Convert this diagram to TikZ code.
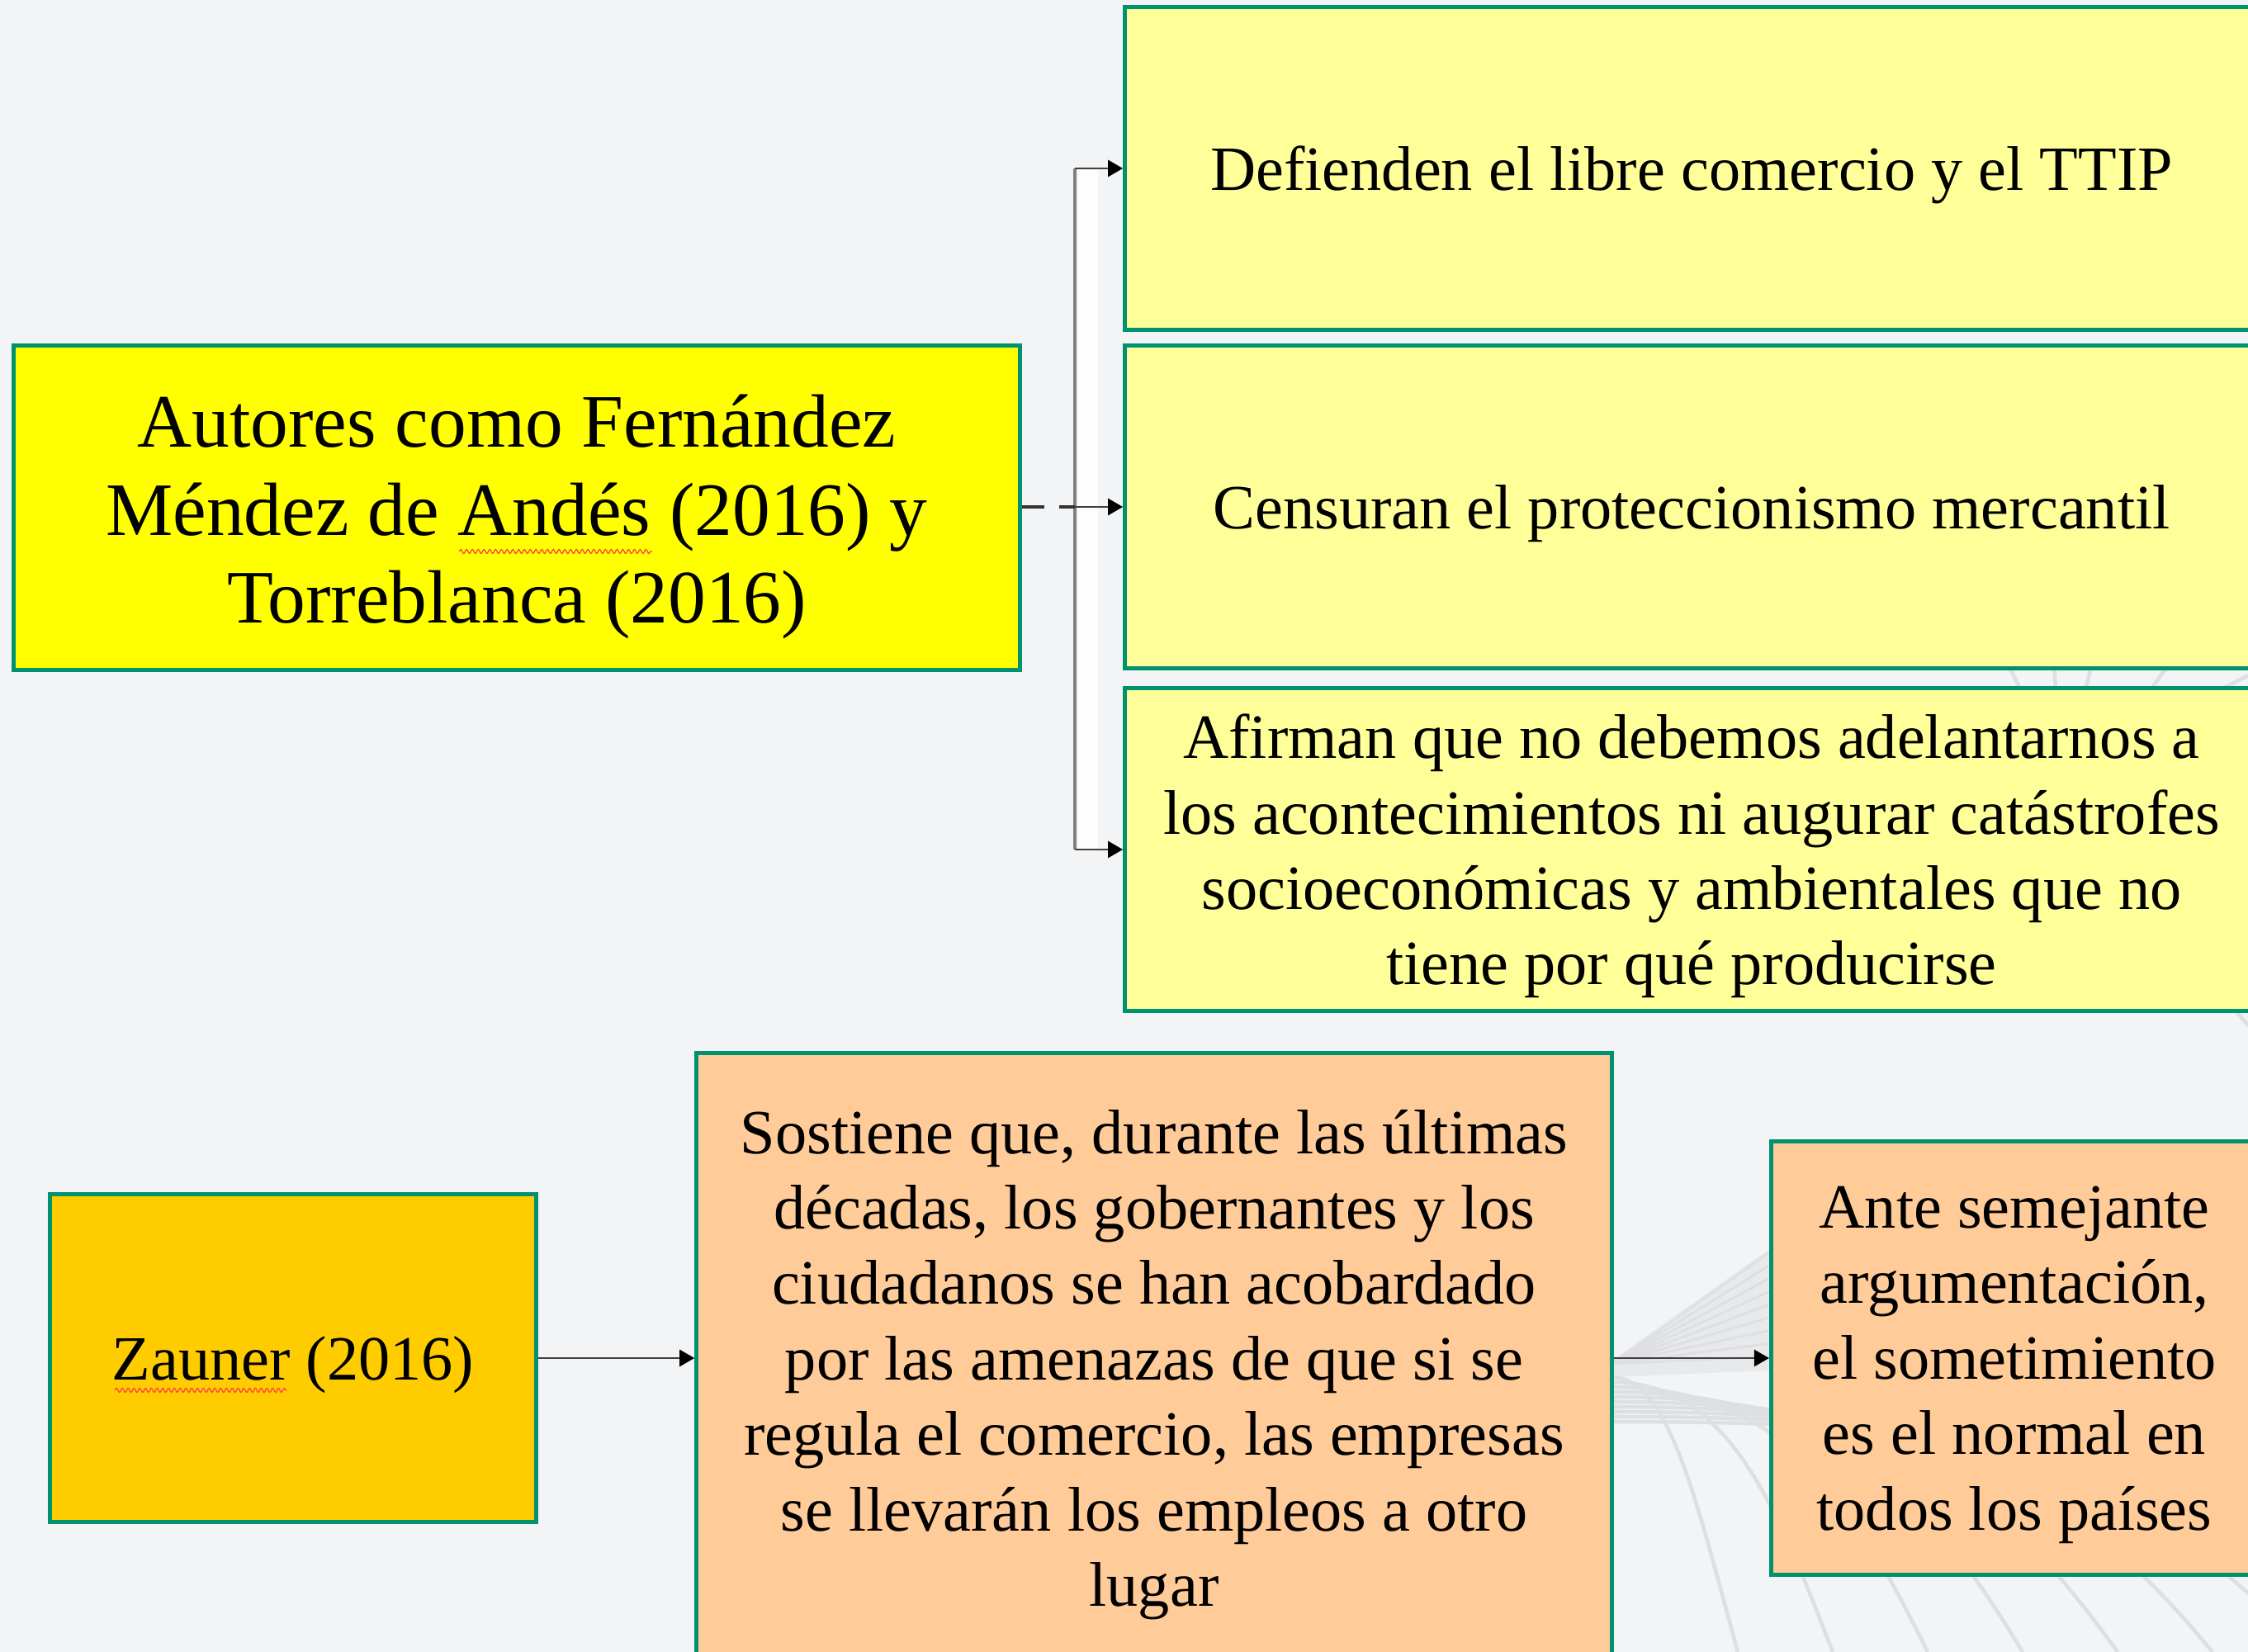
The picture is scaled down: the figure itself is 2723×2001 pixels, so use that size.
\documentclass[tikz,border=0pt]{standalone}
\usepackage{fontspec}
\setmainfont{Liberation Serif}
\usetikzlibrary{arrows.meta,decorations.pathmorphing}
\definecolor{bg}{RGB}{243,244,246}
\definecolor{bord}{RGB}{0,145,110}
\definecolor{yel}{RGB}{255,255,0}
\definecolor{lyel}{RGB}{255,255,153}
\definecolor{gold}{RGB}{255,204,0}
\definecolor{peach}{RGB}{255,204,153}
\definecolor{deco}{RGB}{222,223,226}
\definecolor{brk}{RGB}{128,128,128}
\begin{document}
\begin{tikzpicture}[x=0.01cm,y=-0.01cm,
  box/.style={draw=bord, line width=1.4pt, inner sep=0pt},
  txt/.style={align=center, inner sep=0pt, yshift=-0.08cm,
    font=\fontsize{21.7pt}{26pt}\selectfont},
  conn/.style={draw=black!75, line width=0.8pt,
    -{Triangle[length=0.18cm,width=0.2cm,color=black]}},
  decoline/.style={draw=deco, line width=1.3pt},
  squiggle/.style={draw=red!75, line width=0.35pt, decorate,
    decoration={snake, amplitude=0.025cm, segment length=0.07cm}}]
\useasboundingbox (0,0) rectangle (2723,2001);
\fill[bg] (0,0) rectangle (2723,2001);
\clip (0,0) rectangle (2723,2001);

% background decoration
\fill[deco!70] (1952,1648) -- (2146,1511) -- (2146,1660) -- (1952,1668) -- cycle;
\foreach \i in {0,...,8}
  \draw[decoline, line width=0.8pt] (1952,1652) -- (2146,1515+\i*16);
\foreach \i in {1,...,10}
  \draw[decoline] (1952,1662+6*\i) .. controls (1952+70*\i,1662+6*\i) and (1960+95*\i,1820) .. (1990+115*\i,2001);
\draw[decoline] (2380,700) -- (2480,900);
\draw[decoline] (2480,700) -- (2495,900);
\draw[decoline] (2560,700) -- (2510,900);
\draw[decoline] (2700,700) -- (2560,900);
\draw[decoline] (2800,780) -- (2660,850);
\draw[decoline] (2690,1205) -- (2740,1260);

% boxes
\node[box, fill=yel, minimum width=12.18cm, minimum height=3.92cm] (A) at (626,615) {};
\node[txt, font=\fontsize{26pt}{30.3pt}\selectfont, yshift=-0.03cm] (At) at (A)
  {Autores como Fernández\\Méndez de Andés (2016) y\\Torreblanca (2016)};
\node[box, fill=lyel, minimum width=13.72cm, minimum height=3.9cm] (B1) at (2049,204) {};
\node[txt] (B1t) at (B1) {Defienden el libre comercio y el TTIP};
\node[box, fill=lyel, minimum width=13.72cm, minimum height=3.91cm] (B2) at (2049,614) {};
\node[txt] (B2t) at (B2) {Censuran el proteccionismo mercantil};
\node[box, fill=lyel, minimum width=13.72cm, minimum height=3.9cm] (B3) at (2049,1029) {};
\node[txt] (B3t) at (B3)
  {Afirman que no debemos adelantarnos a\\los acontecimientos ni augurar catástrofes\\socioeconómicas y ambientales que no\\tiene por qué producirse};
\node[box, fill=gold, minimum width=5.88cm, minimum height=3.96cm] (Z) at (355,1645) {};
\node[txt] (Zt) at (Z) {Zauner (2016)};
\node[box, fill=peach, minimum width=11.08cm, minimum height=7.38cm] (S) at (1398,1645) {};
\node[txt, yshift=-0.0cm] (St) at (S)
  {Sostiene que, durante las últimas\\décadas, los gobernantes y los\\ciudadanos se han acobardado\\por las amenazas de que si se\\regula el comercio, las empresas\\se llevarán los empleos a otro\\lugar};
\node[box, fill=peach, minimum width=5.89cm, minimum height=5.24cm] (T) at (2440,1645) {};
\node[txt] (Tt) at (T)
  {Ante semejante\\argumentación,\\el sometimiento\\es el normal en\\todos los países};

% spell-check marks
\draw[squiggle] (556,668) -- (790,668);
\draw[squiggle] (139,1684) -- (347,1684);

% bracket
\coordinate (bx) at (1302,614);
\fill[white, opacity=0.9] (1306,206) rectangle (1330,1029);
\draw[brk, line width=1.1pt] (B1.west -| bx) -- (B3.west -| bx);
\draw[black!80, line width=0.9pt, dash pattern=on 0.27cm off 0.18cm] (A.east |- bx) -- (bx);
\draw[conn] (B1.west -| bx) -- (B1.west);
\draw[conn] (bx) -- (B2.west);
\draw[conn] (B3.west -| bx) -- (B3.west);

% bottom connectors
\draw[conn] (Z.east) -- (S.west);
\draw[conn] (S.east) -- (T.west);
\end{tikzpicture}
\end{document}
